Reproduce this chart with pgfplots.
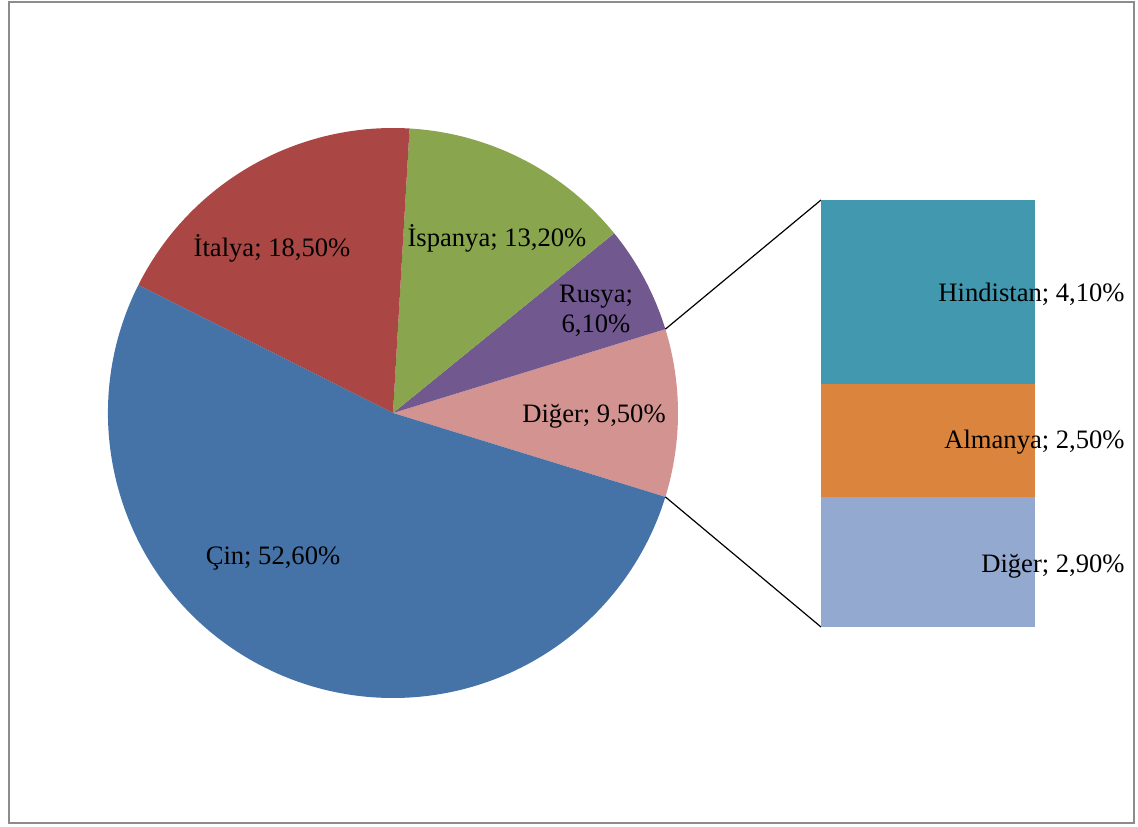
\documentclass[border=0pt]{standalone}
\usepackage{fontspec}
\setmainfont{Liberation Serif}
\usepackage{pgfplots}
\pgfplotsset{compat=1.18}
\definecolor{cCin}{HTML}{4572A7}
\definecolor{cItalya}{HTML}{AA4643}
\definecolor{cIspanya}{HTML}{89A54E}
\definecolor{cRusya}{HTML}{71588F}
\definecolor{cDiger}{HTML}{D39391}
\definecolor{cHindistan}{HTML}{4198AF}
\definecolor{cAlmanya}{HTML}{DB843D}
\definecolor{cDiger2}{HTML}{93A9CF}
\definecolor{frame}{HTML}{8C8C8C}
\begin{document}
\begin{tikzpicture}
\fontsize{13.3}{15}\selectfont
% pie values (percent)
\def\vDiger{9.5}\def\vRusya{6.1}\def\vIspanya{13.2}\def\vItalya{18.5}\def\vCin{52.6}
\pgfmathsetmacro\tot{\vDiger+\vRusya+\vIspanya+\vItalya+\vCin}
\pgfmathsetmacro\sA{-\vDiger/\tot*180}
\pgfmathsetmacro\eA{\sA+\vDiger/\tot*360}
\pgfmathsetmacro\eB{\eA+\vRusya/\tot*360}
\pgfmathsetmacro\eC{\eB+\vIspanya/\tot*360}
\pgfmathsetmacro\eD{\eC+\vItalya/\tot*360}
\pgfmathsetmacro\eE{\eD+\vCin/\tot*360}
\def\R{142.5pt}
\begin{axis}[at={(0,0)},anchor=south west,scale only axis,
  width=569pt,height=413pt,xmin=0,xmax=1138,ymin=0,ymax=826,
  hide axis,clip=false]
\path (axis cs:0,0) rectangle (axis cs:1138,826);
\draw[frame,line width=1.1pt] (axis cs:9,3) rectangle (axis cs:1134,824);
\fill[cDiger] (axis cs:393,413) -- ++(\sA:\R) arc[start angle=\sA,end angle=\eA,radius=\R] -- cycle;
\fill[cRusya] (axis cs:393,413) -- ++(\eA:\R) arc[start angle=\eA,end angle=\eB,radius=\R] -- cycle;
\fill[cIspanya] (axis cs:393,413) -- ++(\eB:\R) arc[start angle=\eB,end angle=\eC,radius=\R] -- cycle;
\fill[cItalya] (axis cs:393,413) -- ++(\eC:\R) arc[start angle=\eC,end angle=\eD,radius=\R] -- cycle;
\fill[cCin] (axis cs:393,413) -- ++(\eD:\R) arc[start angle=\eD,end angle=\eE,radius=\R] -- cycle;
\draw[black,line width=0.6pt] (axis cs:393,413) ++(\eA:\R) -- (axis cs:821,626);
\draw[black,line width=0.6pt] (axis cs:393,413) ++(\sA:\R) -- (axis cs:821,199);
\node at (axis cs:272,578) {İtalya; 18,50\%};
\node at (axis cs:497,588) {İspanya; 13,20\%};
\node[align=center] at (axis cs:596,515) {Rusya;\\6,10\%};
\node at (axis cs:594,410) {Diğer; 9,50\%};
\node at (axis cs:273,268) {Çin; 52,60\%};
\end{axis}
\begin{axis}[at={(410.5pt,99.5pt)},anchor=south west,scale only axis,
  width=107pt,height=213.5pt,xmin=0.5,xmax=1.5,ymin=0,ymax=9.5,
  ybar stacked,bar width=107pt,hide axis,clip=false]
\addplot[fill=cDiger2,draw=none] coordinates {(1,2.9)};
\addplot[fill=cAlmanya,draw=none] coordinates {(1,2.5)};
\addplot[fill=cHindistan,draw=none] coordinates {(1,4.1)};
\end{axis}
\begin{axis}[at={(0,0)},anchor=south west,scale only axis,
  width=569pt,height=413pt,xmin=0,xmax=1138,ymin=0,ymax=826,
  hide axis,clip=false]
\node[anchor=east,inner sep=0pt] at (axis cs:1125,532) {Hindistan; 4,10\%};
\node[anchor=east,inner sep=0pt] at (axis cs:1125,384) {Almanya; 2,50\%};
\node[anchor=east,inner sep=0pt] at (axis cs:1125,260) {Diğer; 2,90\%};
\end{axis}
\end{tikzpicture}
\end{document}
